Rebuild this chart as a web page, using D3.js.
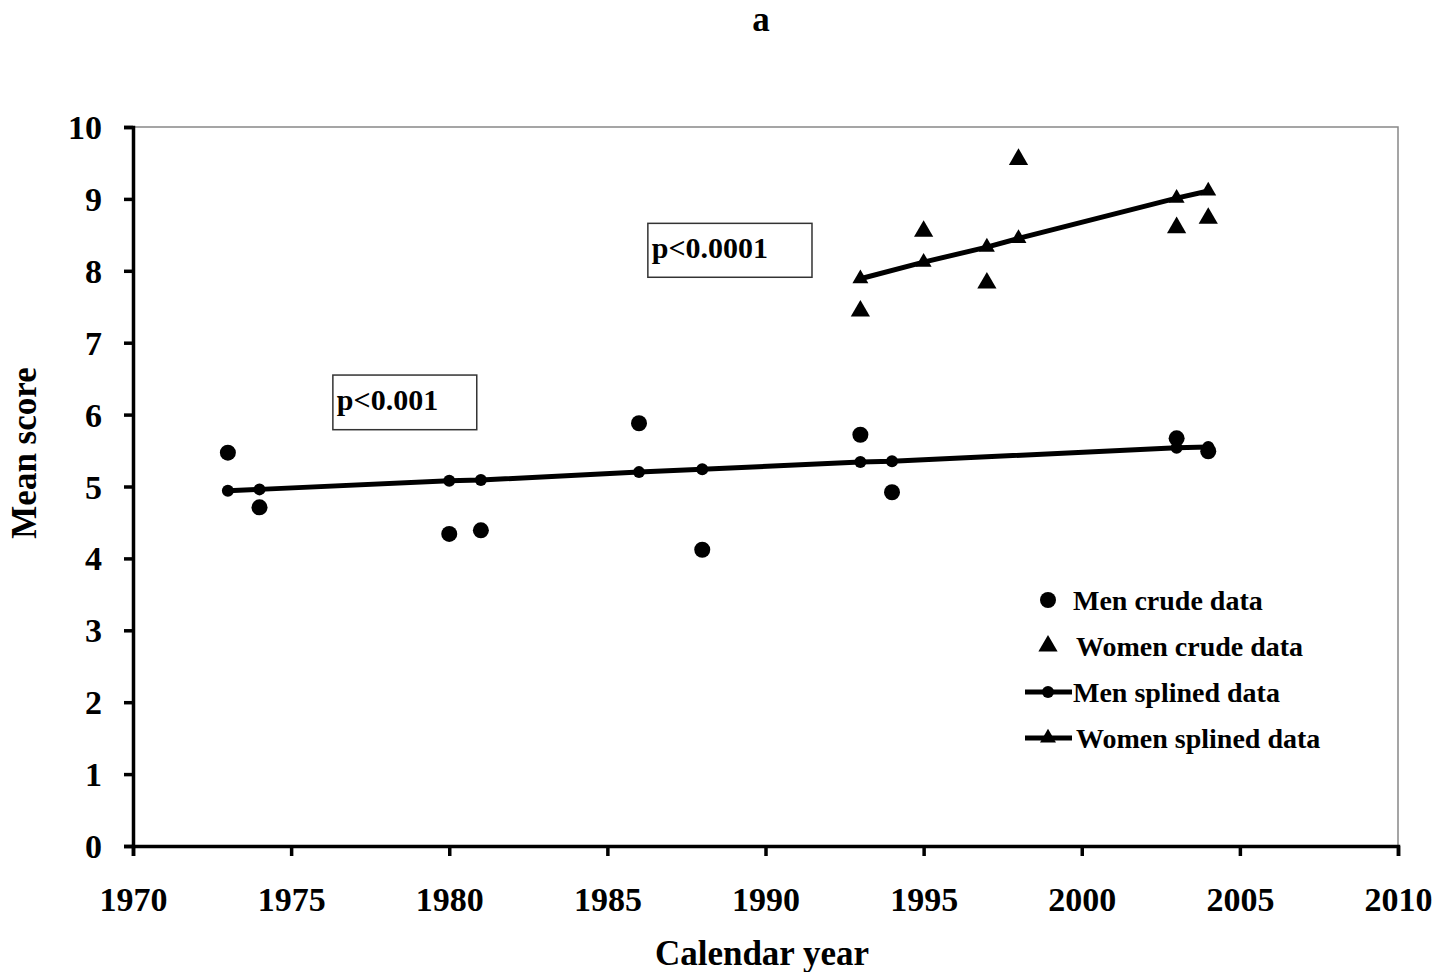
<!DOCTYPE html>
<html>
<head>
<meta charset="utf-8">
<script src="https://cdn.jsdelivr.net/npm/d3@7"></script>
<style>
  body { margin: 0; background: #fff; }
  svg text { font-family: "Liberation Serif", "Times New Roman", serif; font-weight: bold; fill: #000; }
</style>
</head>
<body>
<svg id="chart" width="1451" height="972"></svg>
<script>
// ---- data ----
const menYears = [1973, 1974, 1980, 1981, 1986, 1988, 1993, 1994, 2003, 2004];
const menCrude = [5.47, 4.71, 4.34, 4.39, 5.88, 4.12, 5.72, 4.92, 5.67, 5.49];
const menSpline = [4.94, 4.96, 5.08, 5.09, 5.20, 5.24, 5.34, 5.35, 5.54, 5.55];

const womenYears = [1993, 1995, 1997, 1998, 2003, 2004];
const womenCrude = [7.44, 8.55, 7.83, 9.55, 8.60, 8.73];
const womenSpline = [7.89, 8.12, 8.33, 8.45, 9.01, 9.11];

const xTicks = [1970, 1975, 1980, 1985, 1990, 1995, 2000, 2005, 2010];
const yTicks = [0, 1, 2, 3, 4, 5, 6, 7, 8, 9, 10];

const pTexts = ["p<0.001", "p<0.0001"];

const legendLabels = ["Men crude data", "Women crude data", "Men splined data", "Women splined data"];

// ---- layout ----
const svg = d3.select("#chart");
const plotL = 133, plotR = 1398, plotT = 127, plotB = 846;

const x = d3.scaleLinear().domain([1970, 2010]).range([plotL, plotR]);
const y = d3.scaleLinear().domain([0, 10]).range([plotB, plotT]);

const triangle = d3.symbol().type(d3.symbolTriangle);

// annotation boxes, placed in data units
const pBoxes = [
  { x0: 1976.32, x1: 1980.87, y0: 6.55, y1: 5.79 },
  { x0: 1986.28, x1: 1991.47, y0: 8.66, y1: 7.91 }
];

// frame (top + right in grey)
svg.append("path")
  .attr("d", `M${plotL},${plotT}H${plotR}V${plotB}`)
  .attr("fill", "none").attr("stroke", "#888").attr("stroke-width", 1.5);

// axes
const yAxis = svg.append("g").attr("transform", `translate(${plotL},0)`)
  .call(d3.axisLeft(y).tickValues(yTicks).tickSize(9).tickPadding(22));
const xAxis = svg.append("g").attr("transform", `translate(0,${plotB})`)
  .call(d3.axisBottom(x).tickValues(xTicks).tickFormat(d3.format("d")).tickSize(10).tickPadding(31));

for (const g of [yAxis, xAxis]) {
  g.select(".domain").attr("stroke", "#000").attr("stroke-width", 3.5);
  g.selectAll(".tick line").attr("stroke", "#000").attr("stroke-width", 3.5);
  g.selectAll(".tick text")
    .attr("font-family", "Liberation Serif, Times New Roman, serif")
    .attr("font-weight", "bold").attr("font-size", 34).attr("fill", "#000");
}
yAxis.selectAll(".tick text").attr("dy", "0.34em");

// axis titles
svg.append("text").attr("x", 762).attr("y", 965)
  .attr("text-anchor", "middle").attr("font-size", 35).text("Calendar year");
svg.append("text")
  .attr("transform", `translate(36,453) rotate(-90)`)
  .attr("text-anchor", "middle").attr("font-size", 35).text("Mean score");
svg.append("text").attr("x", 761).attr("y", 31)
  .attr("text-anchor", "middle").attr("font-size", 35).text("a");

// spline lines
const line = d3.line().x(d => x(d[0])).y(d => y(d[1]));
const menPts = menYears.map((yr, i) => [yr, menSpline[i]]);
const womenPts = womenYears.map((yr, i) => [yr, womenSpline[i]]);

svg.append("path").datum(menPts).attr("d", line)
  .attr("fill", "none").attr("stroke", "#000").attr("stroke-width", 5);
svg.append("path").datum(womenPts).attr("d", line)
  .attr("fill", "none").attr("stroke", "#000").attr("stroke-width", 5);

svg.selectAll(".menSplineDot").data(menPts).join("circle")
  .attr("cx", d => x(d[0])).attr("cy", d => y(d[1])).attr("r", 6).attr("fill", "#000");
svg.selectAll(".womenSplineTri").data(womenPts).join("path")
  .attr("transform", d => `translate(${x(d[0])},${y(d[1])})`)
  .attr("d", triangle.size(110)).attr("fill", "#000");

// crude data
svg.selectAll(".menCrude").data(menYears.map((yr, i) => [yr, menCrude[i]])).join("circle")
  .attr("cx", d => x(d[0])).attr("cy", d => y(d[1])).attr("r", 8).attr("fill", "#000");
svg.selectAll(".womenCrude").data(womenYears.map((yr, i) => [yr, womenCrude[i]])).join("path")
  .attr("transform", d => `translate(${x(d[0])},${y(d[1])})`)
  .attr("d", triangle.size(160)).attr("fill", "#000");

// p-value boxes
pTexts.forEach((txt, i) => {
  const b = pBoxes[i];
  svg.append("rect")
    .attr("x", x(b.x0)).attr("y", y(b.y0))
    .attr("width", x(b.x1) - x(b.x0)).attr("height", y(b.y1) - y(b.y0))
    .attr("fill", "#fff").attr("stroke", "#333").attr("stroke-width", 1.5);
  svg.append("text").attr("x", x(b.x0) + 4).attr("y", y(b.y0) + 35)
    .attr("font-size", 30).text(txt);
});

// legend
const lg = svg.append("g").attr("transform", "translate(1048,600)");
legendLabels.forEach((label, i) => {
  const isLine = i >= 2, isCircle = i % 2 === 0;
  const row = lg.append("g").attr("transform", `translate(0,${i * 46})`);
  if (isLine) {
    row.append("line").attr("x1", -23).attr("x2", 24).attr("y1", 0).attr("y2", 0)
      .attr("stroke", "#000").attr("stroke-width", 5);
  }
  if (isCircle) {
    row.append("circle").attr("r", isLine ? 6 : 8).attr("fill", "#000");
  } else {
    row.append("path").attr("d", triangle.size(isLine ? 110 : 160)).attr("fill", "#000");
  }
  row.append("text").attr("x", isCircle ? 25 : 28).attr("y", 0)
    .attr("dy", "0.35em").attr("font-size", 28).text(label);
});
</script>
</body>
</html>
